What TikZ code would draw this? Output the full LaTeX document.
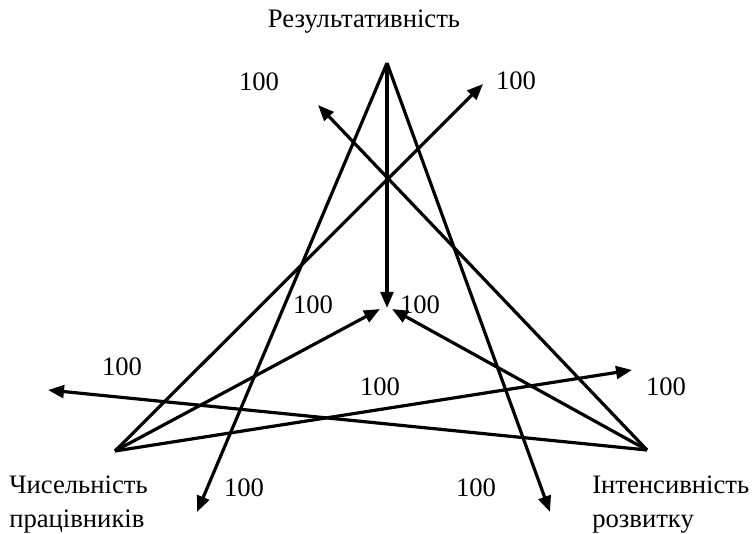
\documentclass[tikz,border=0pt]{standalone}
\usepackage{fontspec}
\setmainfont{Liberation Serif}
\usetikzlibrary{arrows.meta,positioning}
\tikzset{
  axis/.style={
    -{Triangle[length=12pt,width=9.5pt]},
    line width=2.4pt,
    draw=black
  },
  score/.style={
    font=\fontsize{20}{24}\selectfont,
    inner sep=0pt
  },
  pole/.style={
    align=left,
    font=\fontsize{20}{25.5}\selectfont,
    inner sep=0pt
  }
}

\begin{document}
\begin{tikzpicture}[x=0.75pt,y=-0.75pt]
  \useasboundingbox (0,0) rectangle (752,534);

  % corners of the triangle
  \coordinate (res) at (387,63);
  \coordinate (staff) at (115,451);
  \coordinate (growth) at (647,450);

  % ends of the arrows
  \coordinate (resc) at (387,308);
  \coordinate (resl) at (197,512);
  \coordinate (resr) at (550,512);
  \coordinate (staffc) at (380,309);
  \coordinate (staffu) at (483,84);
  \coordinate (staffr) at (632,370);
  \coordinate (growthc) at (392,309);
  \coordinate (growthu) at (318,105);
  \coordinate (growthl) at (48,390);

  \draw[axis] (res) -- (resc);
  \draw[axis] (res) -- (resl);
  \draw[axis] (res) -- (resr);
  \draw[axis] (staff) -- (staffc);
  \draw[axis] (staff) -- (staffu);
  \draw[axis] (staff) -- (staffr);
  \draw[axis] (growth) -- (growthc);
  \draw[axis] (growth) -- (growthu);
  \draw[axis] (growth) -- (growthl);

  \node[pole] (restitle) at (364,22) {Результативність};
  \node[pole, anchor=west] (stafftitle) at (9,505) {Чисельність\\працівників};
  \node[pole, anchor=west] (growthtitle) at (592,505) {Інтенсивність\\розвитку};

  \node[score] (v1) at (259,82) {100};
  \node[score] (v2) at (516,81) {100};
  \node[score] (v3) at (313,305) {100};
  \node[score] (v4) at (420,305) {100};
  \node[score] (v5) at (380,387) {100};
  \node[score] (v6) at (122,367) {100};
  \node[score] (v7) at (666,387) {100};
  \node[score] (v8) at (244,488) {100};
  \node[score] (v9) at (476,488) {100};
\end{tikzpicture}
\end{document}
